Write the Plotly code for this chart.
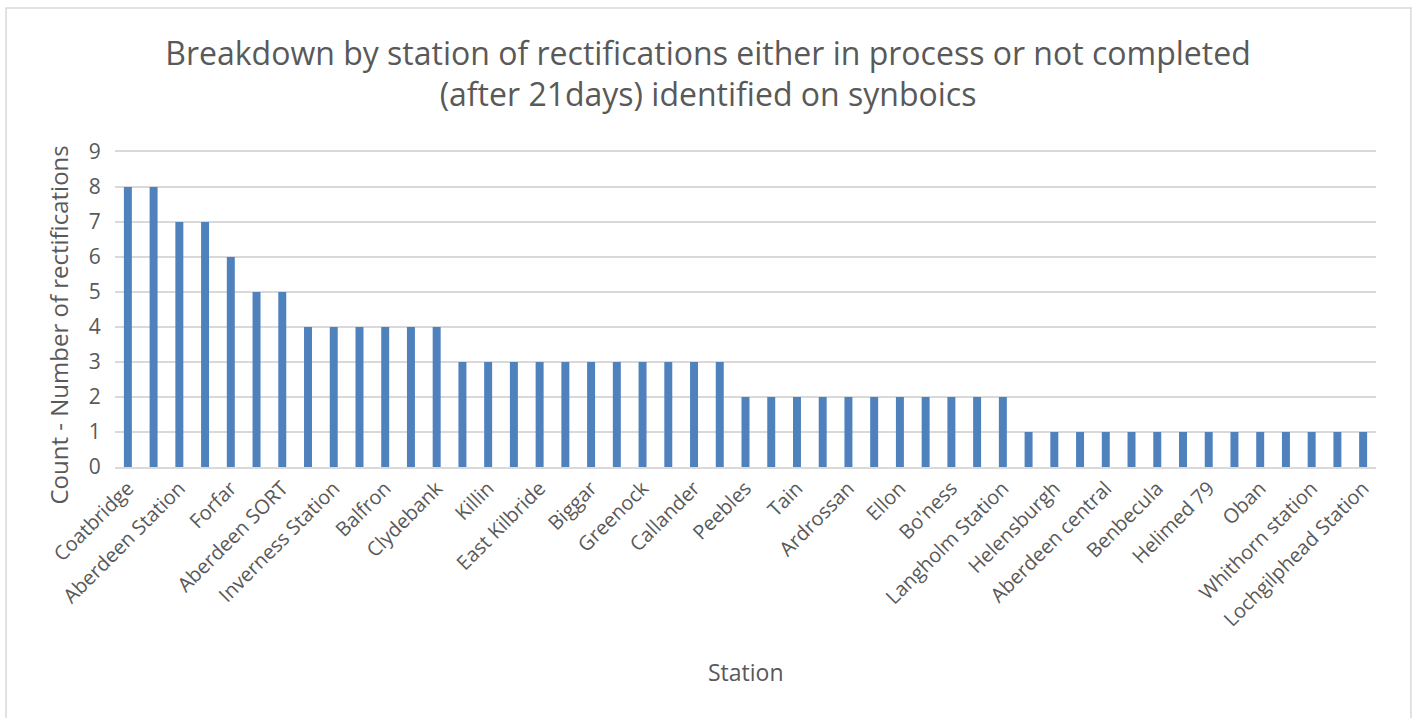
import plotly.graph_objects as go

visible = ["Coatbridge", "Aberdeen Station", "Forfar", "Aberdeen SORT", "Inverness Station",
           "Balfron", "Clydebank", "Killin", "East Kilbride", "Biggar", "Greenock", "Callander",
           "Peebles", "Tain", "Ardrossan", "Ellon", "Bo'ness", "Langholm Station", "Helensburgh",
           "Aberdeen central", "Benbecula", "Helimed 79", "Oban", "Whithorn station",
           "Lochgilphead Station"]
# stations whose labels are skipped on the axis (names not legible in the reference)
hidden = ["Dumfries", "Perth", "Stirling", "Dundee", "Elgin", "Fort William", "Kilmarnock",
          "Ayr", "Hamilton", "Motherwell", "Paisley", "Livingston", "Kirkcaldy", "Dunfermline",
          "Arbroath", "Montrose", "Wick", "Thurso", "Portree", "Stornoway", "Lerwick",
          "Kirkwall", "Galashiels", "Hawick"]

stations = []
for i, v in enumerate(visible):
    stations.append(v)
    if i < len(hidden):
        stations.append(hidden[i])

counts = [8, 8, 7, 7, 6, 5, 5,
          4, 4, 4, 4, 4, 4,
          3, 3, 3, 3, 3, 3, 3, 3, 3, 3, 3,
          2, 2, 2, 2, 2, 2, 2, 2, 2, 2, 2,
          1, 1, 1, 1, 1, 1, 1, 1, 1, 1, 1, 1, 1, 1]

font = "Open Sans, Lato, sans-serif"
grey = "#595959"

fig = go.Figure(go.Bar(x=stations, y=counts, marker=dict(color="#4f81bd", line=dict(width=0))))

fig.update_layout(
    width=1416, height=718,
    margin=dict(l=115, r=40, t=152, b=251),
    paper_bgcolor="white", plot_bgcolor="white",
    bargap=0.69,
    showlegend=False,
    font=dict(family=font, color=grey),
    title=dict(text="Breakdown by station of rectifications either in process or not completed<br>(after 21days) identified on synboics",
               x=0.5, xanchor="center", y=0.91, yanchor="middle",
               font=dict(size=32, color=grey, family=font)),
    xaxis=dict(type="category", tickangle=-45, tickmode="array",
               tickvals=visible, ticktext=visible,
               tickfont=dict(size=20, color=grey), showgrid=False,
               showline=True, mirror=True, linecolor="#d9d9d9", linewidth=1.5, ticks=""),
    yaxis=dict(range=[0, 9], dtick=1, tickfont=dict(size=21, color=grey),
               showgrid=True, gridcolor="#d9d9d9", gridwidth=1.5, zeroline=False,
               ticks="outside", ticklen=9, tickcolor="rgba(0,0,0,0)"),
    annotations=[
        dict(text="Station", xref="paper", yref="paper", x=0.5, y=-0.651, yanchor="middle",
             showarrow=False, font=dict(size=23, color=grey, family=font)),
        dict(text="Count - Number of rectifications", xref="paper", yref="paper",
             x=-0.045, y=0.45, textangle=-90, xanchor="center", yanchor="middle",
             showarrow=False, font=dict(size=24, color=grey, family=font)),
    ],
    shapes=[dict(type="rect", xref="paper", yref="paper",
                 x0=-0.0864, x1=1.0277, y0=-0.9, y1=1.457,
                 line=dict(color="#d9d9d9", width=1.5))],
)

fig.write_html("out.html")
